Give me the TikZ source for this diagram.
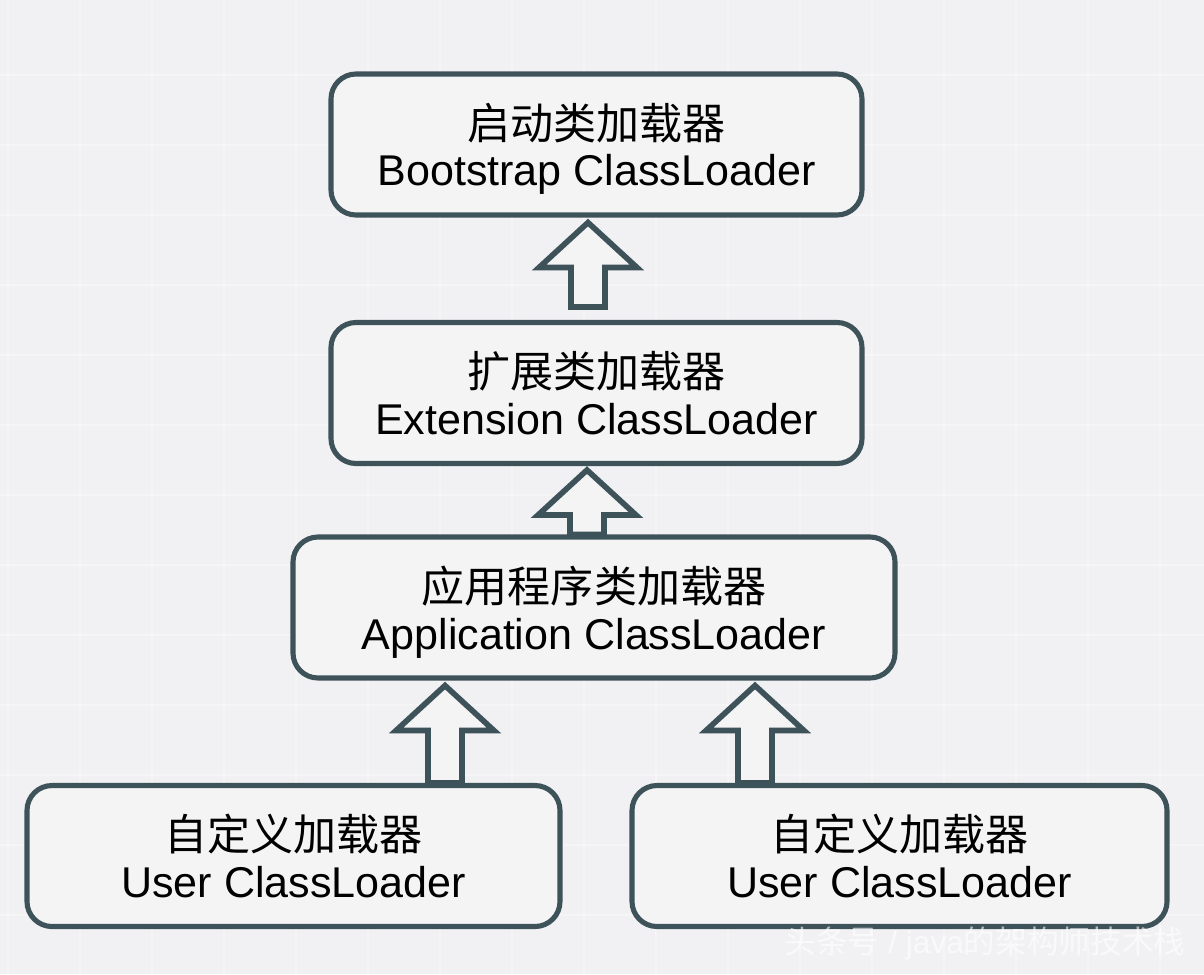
\documentclass[tikz,border=0pt]{standalone}
\usepackage{fontspec}
\setmainfont{Liberation Sans}
\newfontfamily\cjk{Noto Sans CJK SC}
\usetikzlibrary{calc}
\definecolor{boxline}{HTML}{3E525A}
\definecolor{paper}{HTML}{F1F1F3}
\definecolor{boxfill}{HTML}{F4F4F5}

% hollow block arrow: #1 gives the foot (its y), #2 the tip
\newcommand{\hollowarrow}[2]{%
  \draw[hollow] let \p1=(#1), \p2=(#2) in
    (\x2,\y2) -- (\x2+0.98cm,\y2-0.9cm) -- (\x2+0.34cm,\y2-0.9cm) -- (\x2+0.34cm,\y1)
    -- (\x2-0.34cm,\y1) -- (\x2-0.34cm,\y2-0.9cm) -- (\x2-0.98cm,\y2-0.9cm) -- cycle;}

\begin{document}
\begin{tikzpicture}[
    loader/.style={draw=boxline, line width=2.9pt, fill=boxfill, rounded corners=0.5cm,
                   minimum height=2.82cm, align=center, text depth=0pt,
                   font=\fontsize{24.5}{26.5}\selectfont},
    hollow/.style={draw=boxline, line width=3.2pt, fill=boxfill, line join=miter},
    gridline/.style={white, line width=1.5pt, opacity=0.3}]
        % background with faint grid
        \fill[paper] (0,0) rectangle (24.08,-19.48);
        \useasboundingbox (0,0) rectangle (24.08,-19.48);
        \foreach \i in {0,...,16} \draw[gridline] (0.16+1.44*\i,0) -- ++(0,-19.48);
        \foreach \j in {0,...,13} \draw[gridline] (0,-1.5-1.40*\j) -- ++(24.08,0);

        % loader boxes
        \node[loader, minimum width=10.62cm] (boot) at (11.93,-2.89)
            {{\cjk 启动类加载器}\\Bootstrap ClassLoader};
        \node[loader, minimum width=10.62cm] (ext) at (11.93,-7.86)
            {{\cjk 扩展类加载器}\\Extension ClassLoader};
        \node[loader, minimum width=12.04cm] (app) at (11.88,-12.15)
            {{\cjk 应用程序类加载器}\\Application ClassLoader};
        \node[loader, minimum width=10.66cm] (user1) at (5.87,-17.12)
            {{\cjk 自定义加载器}\\User ClassLoader};
        \node[loader, minimum width=10.70cm] (user2) at (17.99,-17.12)
            {{\cjk 自定义加载器}\\User ClassLoader};

        % delegation arrows (child up to parent)
        \hollowarrow{$(ext.north)+(0,0.26)$}{$(boot.south)+(-0.17,-0.1)$}
        \hollowarrow{app.north}{$(ext.south)+(-0.19,-0.08)$}
        \hollowarrow{user1.north}{$(app.south)+(-2.98,-0.1)$}
        \hollowarrow{user2.north}{$(app.south)+(3.22,-0.1)$}

        % watermark
        \node[text=white, opacity=0.6, font=\fontsize{18}{20}\selectfont] (mark) at (19.7,-18.86)
            {{\cjk 头条号} / java{\cjk 的架构师技术栈}};
    \end{tikzpicture}
\end{document}
